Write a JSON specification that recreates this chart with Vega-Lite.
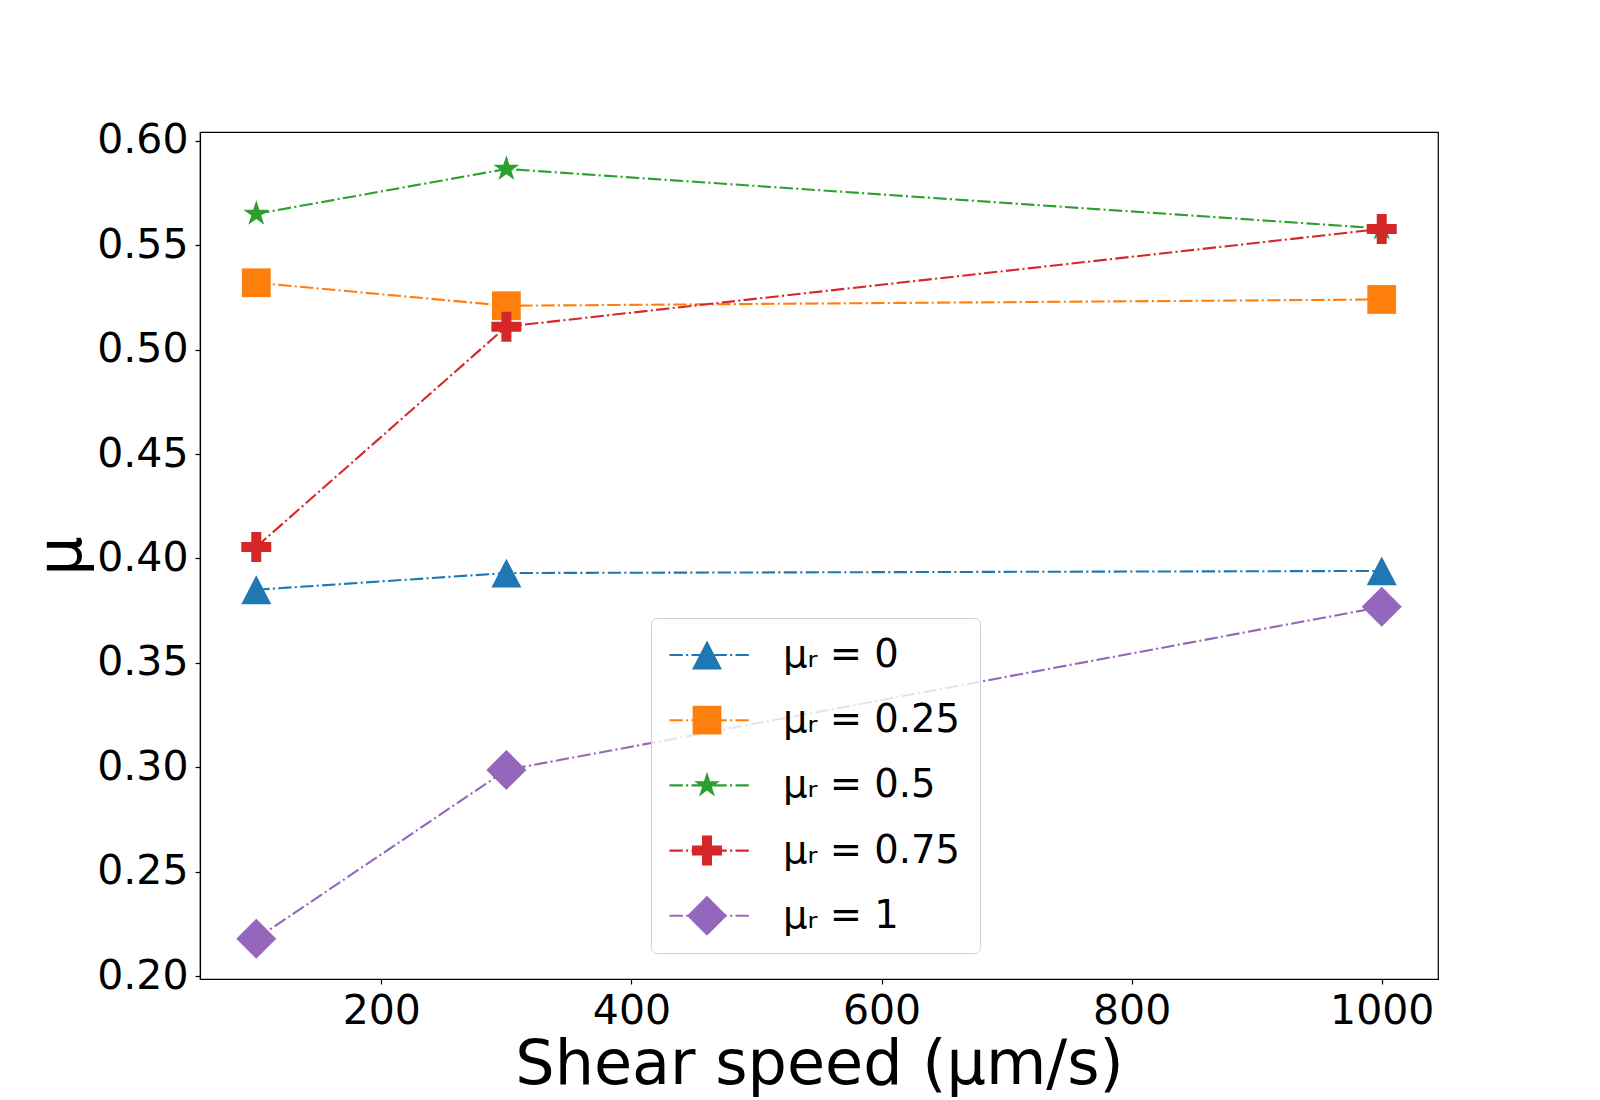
{
  "$schema": "https://vega.github.io/schema/vega-lite/v6.json",
  "description": "Friction coefficient against shear speed for several rolling friction values",
  "autosize": {"type": "none"},
  "width": 1238,
  "height": 847,
  "padding": {"left": 200, "top": 132, "right": 162, "bottom": 121},
  "background": "white",
  "config": {
    "view": {"stroke": "black", "strokeWidth": 1.2},
    "font": "DejaVu Sans",
    "axis": {
      "grid": false,
      "labelFont": "DejaVu Sans",
      "titleFont": "DejaVu Sans",
      "labelFontSize": 41,
      "titleFontSize": 62,
      "titleFontWeight": "normal",
      "labelColor": "black",
      "titleColor": "black",
      "tickColor": "black",
      "domainColor": "black",
      "domainWidth": 1.2,
      "tickWidth": 1.2,
      "tickSize": 5,
      "labelPadding": 7,
      "labelFlush": false,
      "labelOverlap": false
    }
  },
  "data": {
    "values": [
      {"mu_r": "0", "speed": 100, "mu": 0.385},
      {"mu_r": "0", "speed": 300, "mu": 0.393},
      {"mu_r": "0", "speed": 1000, "mu": 0.394},
      {"mu_r": "0.25", "speed": 100, "mu": 0.532},
      {"mu_r": "0.25", "speed": 300, "mu": 0.521},
      {"mu_r": "0.25", "speed": 1000, "mu": 0.524},
      {"mu_r": "0.5", "speed": 100, "mu": 0.565},
      {"mu_r": "0.5", "speed": 300, "mu": 0.5865},
      {"mu_r": "0.5", "speed": 1000, "mu": 0.558},
      {"mu_r": "0.75", "speed": 100, "mu": 0.4055},
      {"mu_r": "0.75", "speed": 300, "mu": 0.511},
      {"mu_r": "0.75", "speed": 1000, "mu": 0.5578},
      {"mu_r": "1", "speed": 100, "mu": 0.2179},
      {"mu_r": "1", "speed": 300, "mu": 0.2987},
      {"mu_r": "1", "speed": 1000, "mu": 0.3768}
    ]
  },
  "encoding": {
    "x": {
      "field": "speed",
      "type": "quantitative",
      "scale": {"domain": [55, 1045], "nice": false, "zero": false},
      "axis": {"title": "Shear speed (μm/s)", "values": [200, 400, 600, 800, 1000], "format": "d", "titlePadding": 3}
    },
    "y": {
      "field": "mu",
      "type": "quantitative",
      "scale": {"domain": [0.1986, 0.6042], "nice": false, "zero": false},
      "axis": {"title": "μ", "values": [0.2, 0.25, 0.3, 0.35, 0.4, 0.45, 0.5, 0.55, 0.6], "format": ".2f", "titlePadding": 3}
    }
  },
  "layer": [
    {
      "mark": {"type": "line", "strokeWidth": 2.1, "strokeDash": [13.3, 3.3, 2.1, 3.3]},
      "encoding": {
        "color": {
          "field": "mu_r",
          "type": "nominal",
          "sort": null,
          "scale": {
            "domain": ["0", "0.25", "0.5", "0.75", "1"],
            "range": ["#1f77b4", "#ff7f0e", "#2ca02c", "#d62728", "#9467bd"]
          },
          "legend": {
            "orient": "none",
            "legendX": 451,
            "legendY": 486,
            "title": null,
            "symbolType": "stroke",
            "symbolSize": 6400,
            "symbolStrokeWidth": 2.1,
            "symbolDash": [13.3, 3.3, 2.1, 3.3],
            "labelExpr": "'μᵣ = ' + datum.label",
            "labelFont": "DejaVu Sans",
            "labelFontSize": 38.5,
            "labelColor": "black",
            "labelOpacity": 0,
            "labelOffset": 35,
            "labelLimit": 400,
            "padding": 17,
            "clipHeight": 40,
            "rowPadding": 25.2,
            "fillColor": "rgba(255,255,255,0.8)",
            "strokeColor": "#d0d0d0",
            "cornerRadius": 6
          }
        }
      }
    },
    {
      "mark": {"type": "point", "filled": true, "opacity": 1, "size": 1600},
      "encoding": {
        "color": {
          "field": "mu_r",
          "type": "nominal",
          "sort": null,
          "legend": {
            "orient": "none",
            "legendX": 470,
            "legendY": 486,
            "title": null,
            "symbolSize": 1600,
            "symbolStrokeWidth": 0,
            "symbolOpacity": 1,
            "labelExpr": "'μᵣ = ' + datum.label",
            "labelFont": "DejaVu Sans",
            "labelFontSize": 38.5,
            "labelColor": "black",
            "labelOffset": 56,
            "labelLimit": 400,
            "padding": 17,
            "clipHeight": 40,
            "rowPadding": 25.2
          }
        },
        "shape": {
          "field": "mu_r",
          "type": "nominal",
          "sort": null,
          "scale": {
            "domain": ["0", "0.25", "0.5", "0.75", "1"],
            "range": [
              "M0,-0.72L0.75,0.72L-0.75,0.72Z",
              "M-0.72,-0.72H0.72V0.72H-0.72Z",
              "M0,-0.68L0.1527,-0.2101L0.6467,-0.2101L0.247,0.0802L0.3997,0.5501L0,0.2597L-0.3997,0.5501L-0.247,0.0802L-0.6467,-0.2101L-0.1527,-0.2101Z",
              "M-0.25,-0.75H0.25V-0.25H0.75V0.25H0.25V0.75H-0.25V0.25H-0.75V-0.25H-0.25Z",
              "M0,-1L1,0L0,1L-1,0Z"
            ]
          },
          "legend": {
            "orient": "none",
            "legendX": 470,
            "legendY": 486,
            "title": null,
            "symbolSize": 1600,
            "symbolStrokeWidth": 0,
            "symbolOpacity": 1,
            "labelExpr": "'μᵣ = ' + datum.label",
            "labelFont": "DejaVu Sans",
            "labelFontSize": 38.5,
            "labelColor": "black",
            "labelOffset": 56,
            "labelLimit": 400,
            "padding": 17,
            "clipHeight": 40,
            "rowPadding": 25.2
          }
        }
      }
    }
  ],
  "resolve": {"legend": {"color": "independent", "shape": "independent"}}
}
